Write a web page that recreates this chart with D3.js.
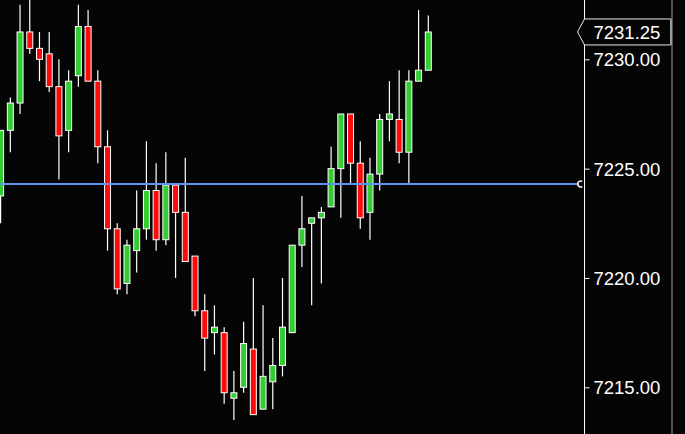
<!DOCTYPE html>
<html>
<head>
<meta charset="utf-8">
<script src="https://cdn.jsdelivr.net/npm/d3@7"></script>
<style>
  html, body { margin: 0; padding: 0; background: #050505; }
  svg { display: block; }
</style>
</head>
<body>
<svg id="chart" width="685" height="434"></svg>
<script>
// ---- data ----
const openV  = [7223.75,7226.75,7228.0,7231.25,7230.5,7230.25,7228.75,7226.75,7229.25,7231.5,
                7229.0,7226.0,7222.25,7219.75,7221.25,7222.25,7224.0,7221.75,7224.25,7223.0,
                7221.0,7218.5,7217.5,7217.5,7214.5,7215.0,7216.75,7214.0,7215.25,7216.0,
                7217.5,7221.5,7222.5,7222.75,7223.25,7225.0,7227.5,7225.25,7223.0,7224.75,
                7227.25,7227.25,7225.75,7229.0,7229.5];
const highV  = [7226.75,7228.25,7232.5,7232.75,7231.25,7231.25,7230.0,7229.5,7232.5,7232.25,
                7229.5,7226.75,7222.5,7221.75,7224.0,7226.25,7225.25,7225.75,7224.25,7225.5,
                7221.0,7219.25,7218.75,7217.75,7215.75,7218.0,7220.0,7218.75,7217.25,7220.0,
                7221.5,7223.75,7222.75,7223.25,7226.0,7227.5,7227.5,7226.25,7225.5,7227.5,
                7229.0,7229.5,7229.5,7232.25,7232.0];
const lowV   = [7222.5,7225.75,7227.5,7230.25,7229.0,7228.5,7224.5,7225.75,7228.75,7229.0,
                7225.25,7221.25,7219.25,7219.25,7220.25,7221.75,7221.25,7221.5,7220.0,7220.75,
                7218.25,7215.75,7216.5,7214.25,7213.5,7214.75,7213.75,7214.0,7214.0,7215.5,
                7217.5,7220.5,7218.75,7219.75,7223.25,7222.75,7224.25,7222.25,7221.75,7224.0,
                7226.25,7225.25,7224.25,7229.0,7229.5];
const closeV = [7226.75,7228.0,7231.25,7230.5,7230.0,7228.75,7226.5,7229.0,7231.5,7229.0,
                7226.0,7222.25,7219.5,7221.5,7222.25,7224.0,7221.75,7224.25,7223.0,7220.75,
                7218.5,7217.25,7217.75,7214.75,7214.75,7217.0,7213.75,7215.5,7216.0,7217.75,
                7221.5,7222.25,7222.75,7223.0,7225.0,7227.5,7225.25,7222.75,7224.75,7227.25,
                7227.5,7225.75,7229.0,7229.5,7231.25];
const tickValues = [7215, 7220, 7225, 7230];
const refLineValue = 7224.31;
const lastPrice = 7231.25;

// ---- layout ----
const W = 685, H = 434;
const axisX = 584.5;
const svg = d3.select("#chart");
svg.append("rect").attr("width", W).attr("height", H).attr("fill", "#050505");

const y = d3.scaleLinear().domain([7215, 7230]).range([387.3, 59.3]);
const x = d3.scaleLinear().domain([0, openV.length - 1]).range([0.6, 428.3]);

const data = openV.map((o, i) => ({ i, o, h: highV[i], l: lowV[i], c: closeV[i] }));

svg.append("defs").append("clipPath").attr("id", "plotClip")
  .append("rect").attr("x", 0).attr("y", 0).attr("width", axisX).attr("height", H);

const plot = svg.append("g").attr("clip-path", "url(#plotClip)");

const candle = plot.selectAll("g.candle").data(data).enter().append("g").attr("class", "candle");
candle.append("line")
  .attr("x1", d => x(d.i)).attr("x2", d => x(d.i))
  .attr("y1", d => y(d.h)).attr("y2", d => y(d.l))
  .attr("stroke", "#ffffff").attr("stroke-width", 1.2);
candle.append("rect")
  .attr("x", d => x(d.i) - 3)
  .attr("width", 6)
  .attr("y", d => y(Math.max(d.o, d.c)))
  .attr("height", d => Math.max(1, Math.abs(y(d.o) - y(d.c))))
  .attr("fill", d => d.c >= d.o ? "#33cc33" : "#ff0a0a")
  .attr("stroke", "#ffffff").attr("stroke-width", 1);

// reference (blue) line
const ry = Math.round(y(refLineValue));
plot.append("line")
  .attr("x1", 0).attr("x2", 578).attr("y1", ry).attr("y2", ry)
  .attr("stroke", "#6495ed").attr("stroke-width", 2);
const cp = d3.path();
cp.arc(580.8, ry, 3, -Math.PI / 3, Math.PI / 3, true);
plot.append("path")
  .attr("d", cp.toString())
  .attr("fill", "none").attr("stroke", "#ffffff").attr("stroke-width", 1.6);

// right axis
const axisG = svg.append("g").attr("transform", `translate(${axisX},0)`);
const axis = d3.axisRight(y).tickValues(tickValues).tickSize(5).tickPadding(4)
  .tickFormat(d3.format(".2f"));
axisG.call(axis);
axisG.select(".domain").remove();
axisG.append("line").attr("x1", 0).attr("x2", 0).attr("y1", 0).attr("y2", H)
  .attr("stroke", "#ffffff").attr("stroke-width", 1);
axisG.selectAll(".tick line").attr("stroke", "#ffffff");
axisG.selectAll(".tick text")
  .attr("fill", "#ffffff")
  .attr("font-family", "'Liberation Sans', Arial, sans-serif")
  .attr("font-size", "18.5px")
  .attr("dy", "0.38em")
  .attr("y", -0.6);

// right edge line
svg.append("line").attr("x1", 672).attr("x2", 672).attr("y1", 0).attr("y2", H)
  .attr("stroke", "#9a9a9a").attr("stroke-width", 1);

// last price tag
const ly = y(lastPrice);
const tag = svg.append("g");
tag.append("path")
  .attr("d", `M${axisX},${ly - 13} L671,${ly - 13} L671,${ly + 13} L${axisX},${ly + 13} L577.5,${ly} Z`)
  .attr("fill", "#050505").attr("stroke", "#e8e8e8").attr("stroke-width", 1);
tag.append("line").attr("x1", 671).attr("x2", 671).attr("y1", ly - 13).attr("y2", ly + 13)
  .attr("stroke", "#9a9a9a").attr("stroke-width", 2);
tag.append("text")
  .attr("x", 593.5).attr("y", ly - 0.2).attr("dy", "0.38em")
  .attr("fill", "#ffffff")
  .attr("font-family", "'Liberation Sans', Arial, sans-serif")
  .attr("font-size", "18.5px")
  .text(d3.format(".2f")(lastPrice));
</script>
</body>
</html>
